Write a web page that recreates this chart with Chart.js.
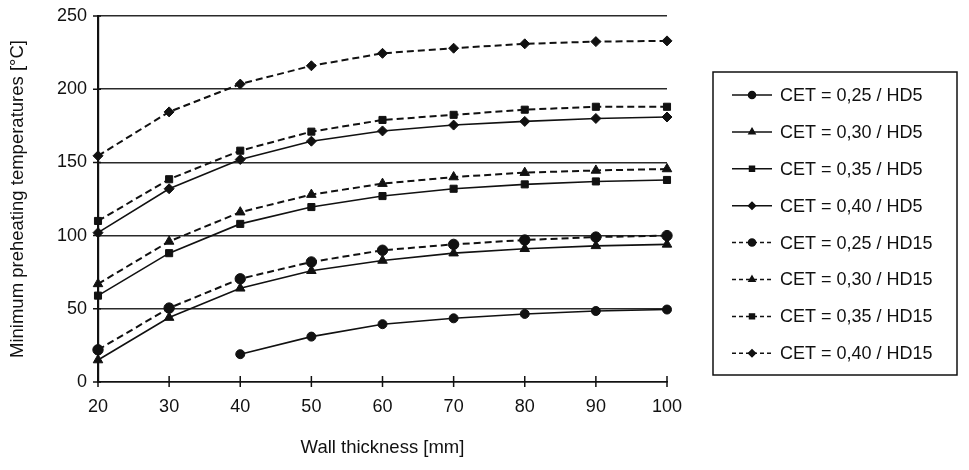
<!DOCTYPE html>
<html>
<head>
<meta charset="utf-8">
<script src="https://cdn.jsdelivr.net/npm/chart.js@4/dist/chart.umd.min.js"></script>
<style>
  html, body { margin: 0; padding: 0; background: #fff; }
  #wrap { width: 969px; height: 470px; }
</style>
</head>
<body>
<div id="wrap"><canvas id="chart" width="969" height="470"></canvas></div>
<script>
// Wall thickness categories [mm]
const thickness = ['20', '30', '40', '50', '60', '70', '80', '90', '100'];
const yTicks = [0, 50, 100, 150, 200, 250];

// Minimum preheating temperatures [°C]
const cet025hd5 = [null, null, 19, 31, 39.5, 43.5, 46.5, 48.5, 49.5];
const cet030hd5 = [15, 44, 64, 76, 83, 88, 91, 93, 94];
const cet035hd5 = [59, 88, 108, 119.5, 127, 132, 135, 137, 138];
const cet040hd5 = [102, 132, 152, 164.5, 171.5, 175.5, 178, 180, 181];
const cet025hd15 = [22, 50.5, 70.5, 82, 90, 94, 97, 99, 100];
const cet030hd15 = [67, 96, 116, 128, 135.5, 140, 143, 144.5, 145.5];
const cet035hd15 = [110, 138.5, 158, 171, 179, 182.5, 186, 188, 188];
const cet040hd15 = [154.5, 184.5, 203.5, 216, 224.5, 228, 231, 232.5, 233];

const seriesNames = [
  'CET = 0,25 / HD5', 'CET = 0,30 / HD5', 'CET = 0,35 / HD5', 'CET = 0,40 / HD5',
  'CET = 0,25 / HD15', 'CET = 0,30 / HD15', 'CET = 0,35 / HD15', 'CET = 0,40 / HD15'
];
const seriesData = [cet025hd5, cet030hd5, cet035hd5, cet040hd5, cet025hd15, cet030hd15, cet035hd15, cet040hd15];

const INK = '#111';
const FONT = "'Liberation Sans', Arial, sans-serif";
Chart.defaults.font.family = FONT;
Chart.defaults.color = INK;

// marker per CET value, dash per HD
const styles = ['circle', 'triangle', 'rect', 'rectRot'];
const radii = { circle: 4.5, triangle: 5.5, rect: 5, rectRot: 5 };

const datasets = seriesData.map((d, i) => {
  const ps = styles[i % 4];
  const dashed = i >= 4;
  return {
    label: seriesNames[i],
    data: d,
    borderColor: INK,
    backgroundColor: INK,
    borderWidth: dashed ? 2 : 1.6,
    borderDash: dashed ? [7, 4] : [],
    pointStyle: ps,
    pointRadius: radii[ps] + (dashed && ps === 'circle' ? 0.7 : 0),
    pointBorderWidth: 1,
    pointBackgroundColor: INK,
    pointBorderColor: INK,
    tension: 0,
    spanGaps: false
  };
});

// small ticks crossing both axes
const crossTicks = {
  id: 'crossTicks',
  afterDraw(chart) {
    const ctx = chart.ctx;
    const x = chart.scales.x, y = chart.scales.y;
    const area = chart.chartArea;
    ctx.save();
    ctx.strokeStyle = INK;
    ctx.lineWidth = 1.5;
    ctx.beginPath();
    x.ticks.forEach((t, i) => {
      const px = x.getPixelForTick(i);
      ctx.moveTo(px, area.bottom - 6);
      ctx.lineTo(px, area.bottom + 5);
    });
    y.ticks.forEach((t, i) => {
      const py = y.getPixelForTick(i);
      ctx.moveTo(area.left - 5, py);
      ctx.lineTo(area.left + 3, py);
    });
    ctx.stroke();
    ctx.restore();
  }
};

// boxed legend to the right of the plot
const boxLegend = {
  id: 'boxLegend',
  afterDraw(chart) {
    const ctx = chart.ctx;
    const left = 713, top = 72, right = 957, bottom = 375;
    ctx.save();
    ctx.strokeStyle = INK;
    ctx.lineWidth = 1.5;
    ctx.strokeRect(left, top, right - left, bottom - top);
    ctx.font = '18px ' + FONT;
    ctx.textBaseline = 'middle';
    ctx.fillStyle = INK;
    chart.data.datasets.forEach((ds, i) => {
      const cy = 95 + i * 36.9;
      ctx.beginPath();
      ctx.setLineDash(ds.borderDash.length ? [4, 3] : []);
      ctx.lineWidth = 1.5;
      ctx.moveTo(732, cy);
      ctx.lineTo(772, cy);
      ctx.stroke();
      ctx.setLineDash([]);
      Chart.helpers.drawPoint(ctx, {
        pointStyle: ds.pointStyle, radius: 3.5, rotation: 0, borderWidth: 1
      }, 752, cy);
      ctx.fill();
      ctx.fillText(ds.label, 780, cy + 1);
    });
    ctx.restore();
  }
};

new Chart(document.getElementById('chart'), {
  type: 'line',
  data: { labels: thickness, datasets },
  options: {
    responsive: false,
    animation: false,
    layout: { padding: { left: 0, top: 16, right: 302, bottom: 0 } },
    plugins: { legend: { display: false }, tooltip: { enabled: false } },
    scales: {
      x: {
        type: 'category',
        offset: false,
        grid: { display: true, drawOnChartArea: false, drawTicks: false },
        border: { display: true, color: INK, width: 1.6 },
        ticks: { padding: 14, font: { size: 18 }, color: INK, maxRotation: 0 },
        title: { display: true, text: 'Wall thickness [mm]', font: { size: 18.5 }, color: INK, padding: { top: 0, bottom: 11 } },
        afterFit(scale) {
          scale.height = 88;
          scale.paddingLeft = 0; scale.paddingRight = 0;
          scale.paddingTop = 0; scale.paddingBottom = 0;
        }
      },
      y: {
        min: 0,
        max: 250,
        afterBuildTicks(scale) { scale.ticks = yTicks.map(v => ({ value: v })); },
        grid: { color: '#2a2a2a', lineWidth: 1.5, drawTicks: false },
        border: { display: true, color: INK, width: 2.2 },
        ticks: { padding: 11, font: { size: 18 }, color: INK },
        title: { display: true, text: 'Minimum preheating temperatures [°C]', font: { size: 18.5 }, color: INK, padding: { top: 7, bottom: 0 } },
        afterFit(scale) {
          scale.width = 98;
          scale.paddingTop = 0; scale.paddingBottom = 0;
          scale.paddingLeft = 0; scale.paddingRight = 0;
        }
      }
    }
  },
  plugins: [crossTicks, boxLegend]
});
</script>
</body>
</html>
